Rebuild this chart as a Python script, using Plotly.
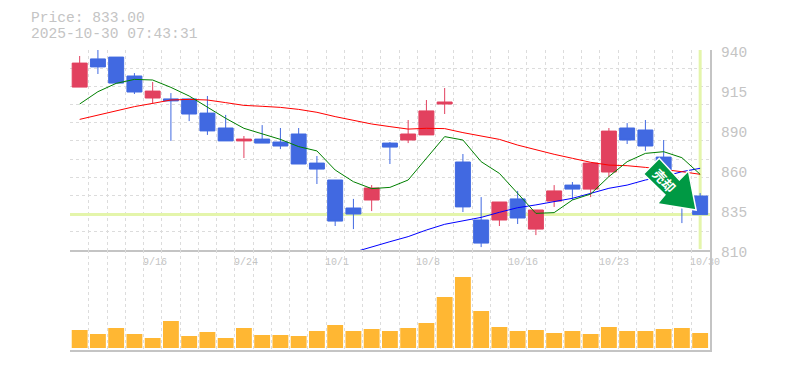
import plotly.graph_objects as go

index = list(range(35))
opens = [915.9,934.2,935.4,923.1,908.8,908.2,908.2,899.0,889.3,880.9,882.1,880.2,885.4,866.5,855.5,837.3,842.5,879.5,881.5,884.8,904.9,867.2,829.5,829.5,843.2,823.6,841.8,852.2,849.6,860.7,889.3,888.0,870.4,849.0,845.1]
highs = [936.1,940.0,935.4,925.0,919.2,912.0,908.2,910.1,897.8,884.1,891.2,889.3,889.3,871.1,855.5,843.2,852.2,880.2,894.5,907.5,915.3,872.4,844.4,841.2,848.4,836.0,852.2,854.2,866.5,889.3,892.5,894.5,881.5,851.2,847.0]
lows = [915.9,924.4,918.5,911.4,904.9,880.9,893.8,884.8,880.9,869.8,879.5,875.6,865.9,852.9,825.6,823.6,835.3,865.9,879.5,884.8,898.4,834.7,811.9,825.6,826.9,819.7,838.0,842.5,844.4,857.4,878.9,874.4,857.7,827.5,832.8]
closes = [931.5,929.0,918.5,912.7,913.3,906.9,898.4,887.4,880.9,882.1,879.5,877.6,865.9,862.6,828.8,833.4,850.3,876.9,885.4,900.4,906.2,838.0,814.5,841.2,830.8,836.0,848.4,849.6,866.5,887.3,881.5,877.6,859.8,840.3,833.0]
ma_short = [904.9,912.9,918.3,920.9,920.5,915.7,910.1,902.7,895.6,889.1,885.4,881.9,877.2,874.4,862.0,854.4,849.9,850.7,855.5,869.6,883.7,881.5,867.4,859.8,846.8,833.8,834.3,842.5,846.4,857.7,867.4,872.8,873.9,870.0,859.2]
ma_mid = [894.9,897.8,900.4,903.2,905.3,907.5,907.9,907.5,905.8,904.0,903.4,902.7,901.4,899.5,896.7,894.1,891.9,890.2,888.6,889.1,888.9,886.3,884.1,881.9,878.2,875.0,872.2,869.6,867.0,865.2,864.8,863.7,862.4,860.9,859.2]
ma_long = [None]*15 + [808.5,811.7,815.4,818.7,823.0,826.7,829.1,831.2,834.5,837.5,839.3,841.4,843.6,846.8,850.1,852.2,855.5,857.7,860.9,863.1]
volumes = [18,14,20,14,10,27,12,16,10,20,13,13,12,17,23,17,19,17,20,25,51,71,37,21,17,18,15,17,14,21,17,17,19,20,15]

date_idx = [4,9,14,19,24,29,34]
date_labels = ["9/16","9/24","10/1","10/8","10/16","10/23","10/30"]
price_vals = [810,836,862,888,914,940]
price_labels = ["810","835","860","890","915","940"]
last_price = 833
header = ["Price: 833.00","2025-10-30 07:43:31"]
arrow_x = [31.76,30.90,32.07,31.66,33.78,33.36,32.86]
arrow_y = [869.6,859.4,845.9,840.0,836.0,861.5,855.5]
grid_y = [810+i*130/11 for i in range(12)]
grid_x = [i-0.5 for i in range(36)]

GREY = "#c4c4c4"
GRID = "#dcdcdc"
LIME = "#e4f5ab"
MONO = "Liberation Mono"
AXIS = "#c4c4c4"

fig = go.Figure()
fig.add_trace(go.Candlestick(x=index, open=opens, high=highs, low=lows, close=closes,
    increasing=dict(line=dict(color="#e2415f", width=1), fillcolor="#e2415f"),
    decreasing=dict(line=dict(color="#4169e1", width=1), fillcolor="#4169e1"),
    whiskerwidth=0, showlegend=False, xaxis="x", yaxis="y"))
for vals, col in ((ma_long, "#0000ff"), (ma_mid, "#ff0000"), (ma_short, "#008000")):
    fig.add_trace(go.Scatter(x=index, y=vals, mode="lines", line=dict(color=col, width=1),
                             cliponaxis=False, showlegend=False, xaxis="x", yaxis="y"))
fig.add_trace(go.Bar(x=index, y=volumes, marker=dict(color="#ffb733", line=dict(width=0)),
                     width=0.87, showlegend=False, xaxis="x2", yaxis="y2"))

shapes = [
    dict(type="line", xref="x", yref="y", x0=-0.53, x1=34.54, y0=last_price, y1=last_price,
         line=dict(color=LIME, width=3), layer="between"),
    dict(type="line", xref="x", yref="y", x0=index[-1], x1=index[-1], y0=810.6, y1=940,
         line=dict(color=LIME, width=3), layer="between"),
    dict(type="path", xref="x", yref="y", layer="above",
         path="M " + " L ".join(f"{a},{b}" for a, b in zip(arrow_x, arrow_y)) + " Z",
         fillcolor="#009944", line=dict(color="#ffffff", width=1.5)),
]

ann = []
for i, t in zip(date_idx, date_labels):
    ann.append(dict(x=i, y=810, xref="x", yref="y", text=t, showarrow=False, xanchor="left", yanchor="top",
                    xshift=-12, yshift=-5, font=dict(family=MONO, size=10, color=GREY)))
for v, t in zip(price_vals, price_labels):
    ann.append(dict(x=34.54, y=v, xref="x", yref="y", text=t, showarrow=False, xanchor="left", yanchor="middle",
                    xshift=9, yshift=-3, font=dict(family=MONO, size=14.5, color=GREY)))
for k, t in enumerate(header):
    ann.append(dict(x=0, y=1, xref="paper", yref="paper", text=t, showarrow=False, xanchor="left", yanchor="middle",
                    xshift=-41, yshift=32 - k*16, font=dict(family=MONO, size=14.6, color=GREY)))
ann.append(dict(x=32.07, y=855.5, xref="x", yref="y", text="売却", showarrow=False, textangle=47,
                font=dict(family="Noto Sans CJK JP", size=13, color="#ffffff", weight="bold")))

fig.update_layout(
    width=785, height=370, margin=dict(l=70, r=75, t=50, b=20),
    paper_bgcolor="#ffffff", plot_bgcolor="#ffffff", boxgap=0.18, boxgroupgap=0, bargap=0.12, showlegend=False,
    shapes=shapes, annotations=ann, hovermode=False,
    xaxis=dict(domain=[0,1], range=[-0.53,34.54], tickvals=grid_x, showticklabels=False, ticks="",
               showgrid=True, gridcolor=GRID, griddash="3px,3px", gridwidth=1, zeroline=False,
               rangeslider=dict(visible=False), showline=True, linecolor=AXIS, linewidth=1.5, anchor="y"),
    xaxis2=dict(domain=[0,1], range=[-0.53,34.54], tickvals=grid_x, showticklabels=False, ticks="",
                showgrid=True, gridcolor=GRID, griddash="3px,3px", gridwidth=1, zeroline=False,
                showline=True, linecolor=AXIS, linewidth=1.5, anchor="y2"),
    yaxis=dict(domain=[1/3,1], range=[810,940], tickvals=grid_y, showticklabels=False, ticks="",
               showgrid=True, gridcolor=GRID, griddash="3px,3px", gridwidth=1, zeroline=False,
               side="right", showline=True, linecolor=AXIS, linewidth=1.5, anchor="x"),
    yaxis2=dict(domain=[0,1/3], range=[-2,98], showticklabels=False, ticks="", showgrid=False, zeroline=False,
                side="right", showline=True, linecolor=AXIS, linewidth=1.5, anchor="x2"),
)
fig.write_html("out.html", config=dict(displayModeBar=False), post_script="document.body.style.margin='0';")
